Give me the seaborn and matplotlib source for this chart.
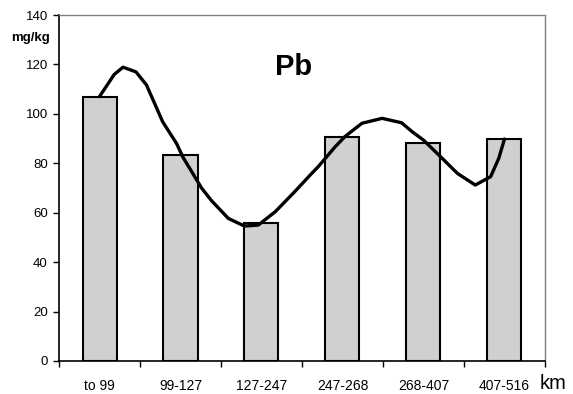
import matplotlib
matplotlib.use("Agg")
import matplotlib.pyplot as plt
import seaborn as sns
import numpy as np
from matplotlib.ticker import FixedLocator

# ---- data ----
categories = ["to 99", "99-127", "127-247", "247-268", "268-407", "407-516"]
pb_values = [107.0, 83.4, 56.0, 90.8, 88.3, 89.8]

# smoothed trend curve (x in category units)
curve_x = [0.0, 0.18, 0.29, 0.45, 0.58, 0.78, 0.95, 1.03, 1.26, 1.38, 1.59,
           1.79, 1.96, 2.17, 2.41, 2.62, 2.70, 2.91, 3.03, 3.24, 3.49, 3.73,
           3.86, 4.00, 4.21, 4.42, 4.64, 4.83, 4.93, 5.0]
curve_y = [107.0, 115.9, 118.9, 117.0, 111.7, 96.8, 88.1, 82.5, 70.0, 65.0, 57.7,
           54.6, 55.0, 60.4, 68.5, 75.9, 78.6, 86.7, 90.8, 96.2, 98.2, 96.4,
           92.8, 89.4, 82.7, 75.9, 71.2, 74.6, 82.0, 89.8]

yticks = [0, 20, 40, 60, 80, 100, 120, 140]

sns.set_style("white")
plt.rcParams['font.family'] = ['Liberation Sans', 'DejaVu Sans']
plt.rcParams['text.color'] = 'black'
plt.rcParams['xtick.color'] = 'black'
plt.rcParams['ytick.color'] = 'black'
plt.rcParams['xtick.labelcolor'] = 'black'
plt.rcParams['ytick.labelcolor'] = 'black'

fig = plt.figure(figsize=(5.73, 3.94), dpi=100)
ax = fig.add_axes([0.103, 0.0838, 0.848, 0.878])

sns.barplot(x=categories, y=pb_values, width=0.42, color="#d0d0d0",
            saturation=1, edgecolor="black", linewidth=1.5, ax=ax)
sns.lineplot(x=curve_x, y=curve_y, color="black", linewidth=2.4, sort=False,
             estimator=None, ax=ax)

ax.set_xlim(-0.5, 5.5)
ax.set_ylim(0, 140)
ax.set_yticks(yticks)
ax.tick_params(axis='y', direction='out', length=4, width=1, pad=4,
               labelsize=9.5, left=True, colors='black')
ax.tick_params(axis='x', which='major', length=0, pad=13, labelsize=10,
               colors='black')
ax.xaxis.set_minor_locator(FixedLocator(np.arange(-0.5, 6.0, 1.0)))
ax.tick_params(axis='x', which='minor', direction='out', length=4, width=1,
               bottom=True, colors='black')
ax.set_xlabel("")
ax.set_ylabel("")

for s in ['left', 'bottom']:
    ax.spines[s].set_color('black')
    ax.spines[s].set_linewidth(1.2)
for s in ['top', 'right']:
    ax.spines[s].set_visible(True)
    ax.spines[s].set_color('#808080')
    ax.spines[s].set_linewidth(1.0)

fig.text(294 / 573, 1 - 75 / 394, "Pb", fontsize=21, fontweight='bold',
         ha='center', va='baseline', color='black')
fig.text(30.5 / 573, 1 - 41.5 / 394, "mg/kg", fontsize=9.5, fontweight='bold',
         ha='center', va='baseline', color='black')
fig.text(540 / 573, 1 - 389 / 394, "km", fontsize=14.5, ha='left', va='baseline',
         color='black')

fig.savefig("out.png", dpi=100)
